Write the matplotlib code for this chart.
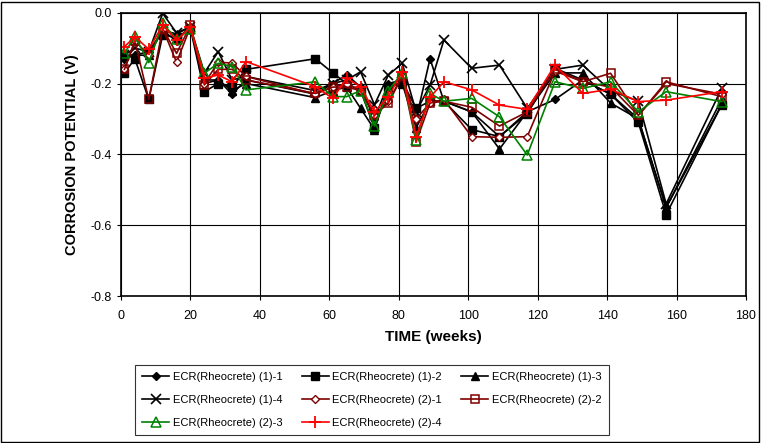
import matplotlib.pyplot as plt
from matplotlib.patches import Rectangle

plt.rcParams['font.family'] = ['Liberation Sans', 'DejaVu Sans']

# weeks of measurement
weeks = [1, 4, 8, 12, 16, 20, 24, 28, 32, 36, 56, 61, 65, 69, 73, 77, 81, 85, 89,
         93, 101, 109, 117, 125, 133, 141, 149, 157, 173]

# corrosion potential (V) per specimen
ecr1_1 = [-0.13, -0.12, -0.11, -0.05, -0.08, -0.04, -0.20, -0.19, -0.23, -0.19, -0.23,
          -0.20, -0.175, -0.21, -0.30, -0.20, -0.19, -0.30, -0.13, -0.25, -0.28, -0.35,
          -0.28, -0.245, -0.19, -0.23, -0.30, -0.55, -0.26]
ecr1_2 = [-0.17, -0.13, -0.245, -0.063, -0.07, -0.045, -0.223, -0.20, -0.21, -0.16, -0.13,
          -0.17, -0.20, -0.22, -0.325, -0.21, -0.195, -0.27, -0.25, -0.25, -0.33, -0.35,
          -0.285, -0.157, -0.19, -0.23, -0.31, -0.57, -0.26]
ecr1_3 = [-0.12, -0.12, -0.12, -0.05, -0.06, -0.04, -0.19, -0.19, -0.22, -0.20, -0.24,
          -0.22, -0.21, -0.27, -0.33, -0.21, -0.20, -0.325, -0.25, -0.25, -0.28, -0.385,
          -0.28, -0.17, -0.17, -0.255, -0.30, -0.55, -0.245]
ecr1_4 = [-0.12, -0.10, -0.11, -0.002, -0.057, -0.04, -0.17, -0.11, -0.19, -0.18, -0.22,
          -0.20, -0.19, -0.167, -0.26, -0.176, -0.143, -0.28, -0.205, -0.077, -0.157, -0.148,
          -0.27, -0.16, -0.148, -0.22, -0.25, -0.54, -0.214]
ecr2_1 = [-0.16, -0.08, -0.12, -0.045, -0.14, -0.04, -0.20, -0.14, -0.142, -0.18, -0.23,
          -0.21, -0.20, -0.22, -0.29, -0.25, -0.18, -0.30, -0.255, -0.245, -0.35, -0.352,
          -0.35, -0.165, -0.195, -0.21, -0.29, -0.20, -0.23]
ecr2_2 = [-0.16, -0.08, -0.245, -0.045, -0.115, -0.035, -0.204, -0.16, -0.16, -0.19, -0.228,
          -0.21, -0.21, -0.22, -0.29, -0.255, -0.18, -0.365, -0.255, -0.25, -0.267, -0.32,
          -0.28, -0.16, -0.195, -0.171, -0.29, -0.195, -0.237]
ecr2_3 = [-0.115, -0.066, -0.141, -0.03, -0.075, -0.045, -0.171, -0.143, -0.152, -0.218, -0.195,
          -0.237, -0.237, -0.22, -0.32, -0.22, -0.17, -0.36, -0.228, -0.25, -0.242, -0.294,
          -0.402, -0.195, -0.214, -0.195, -0.28, -0.223, -0.251]
ecr2_4 = [-0.096, -0.068, -0.103, -0.035, -0.078, -0.04, -0.185, -0.176, -0.195, -0.138, -0.209,
          -0.242, -0.185, -0.209, -0.28, -0.237, -0.167, -0.35, -0.239, -0.195, -0.218, -0.261,
          -0.273, -0.148, -0.228, -0.216, -0.251, -0.247, -0.223]

labels = ['ECR(Rheocrete) (1)-1', 'ECR(Rheocrete) (1)-2', 'ECR(Rheocrete) (1)-3',
          'ECR(Rheocrete) (1)-4', 'ECR(Rheocrete) (2)-1', 'ECR(Rheocrete) (2)-2',
          'ECR(Rheocrete) (2)-3', 'ECR(Rheocrete) (2)-4']

dark_red = '#800000'
green = '#008000'
styles = [
    dict(color='black', marker='D', ms=4.5, mfc='black'),
    dict(color='black', marker='s', ms=5.5, mfc='black'),
    dict(color='black', marker='^', ms=6, mfc='black'),
    dict(color='black', marker='x', ms=7, mew=1.2),
    dict(color=dark_red, marker='D', ms=4.5, mfc='white'),
    dict(color=dark_red, marker='s', ms=6, mfc='none', mew=1.1),
    dict(color=green, marker='^', ms=7, mfc='none', mew=1.1),
    dict(color='red', marker='+', ms=9, mew=1.3),
]
series = [ecr1_1, ecr1_2, ecr1_3, ecr1_4, ecr2_1, ecr2_2, ecr2_3, ecr2_4]

fig = plt.figure(figsize=(7.63, 4.43), dpi=100)
ax = fig.add_axes([121 / 763, 1 - 296 / 443, 625 / 763, 283.3 / 443])

lines = []
for vals, lab, st in zip(series, labels, styles):
    ln, = ax.plot(weeks, vals, lw=1.2, label=lab, **st)
    lines.append(ln)

ax.set_xlim(0, 180)
ax.set_ylim(-0.8, 0.0)
ax.set_xticks(range(0, 181, 20))
ax.set_yticks([-0.8, -0.6, -0.4, -0.2, 0.0])
ax.set_yticklabels(['-0.8', '-0.6', '-0.4', '-0.2', '0.0'])
ax.grid(True, color='black', lw=0.8)
ax.set_axisbelow(True)
ax.tick_params(direction='out', length=3, labelsize=9, color='black')
ax.tick_params(axis='x', pad=7)
for sp in ax.spines.values():
    sp.set_linewidth(1.2)

ax.set_xlabel('TIME (weeks)', fontsize=11, fontweight='bold', labelpad=6)
ax.set_ylabel('CORROSION POTENTIAL (V)', fontsize=10.5, fontweight='bold', labelpad=8)

# legend filled row by row, like the original
order = [0, 3, 6, 1, 4, 7, 2, 5]
leg = fig.legend([lines[i] for i in order], [labels[i] for i in order],
                 loc='upper left', bbox_to_anchor=(135 / 763, 1 - 365 / 443),
                 borderaxespad=0, ncol=3, fontsize=8, frameon=True, fancybox=False,
                 edgecolor='black', handlelength=2.4, columnspacing=1.75,
                 labelspacing=1.15, borderpad=0.65, handletextpad=0.35)
leg.get_frame().set_linewidth(0.8)

# outer chart border
fig.patches.append(Rectangle((1 / 763, 1 / 443), 758 / 763, 440 / 443,
                             transform=fig.transFigure, fill=False,
                             edgecolor='black', lw=1))

fig.savefig('out.png', dpi=100)
